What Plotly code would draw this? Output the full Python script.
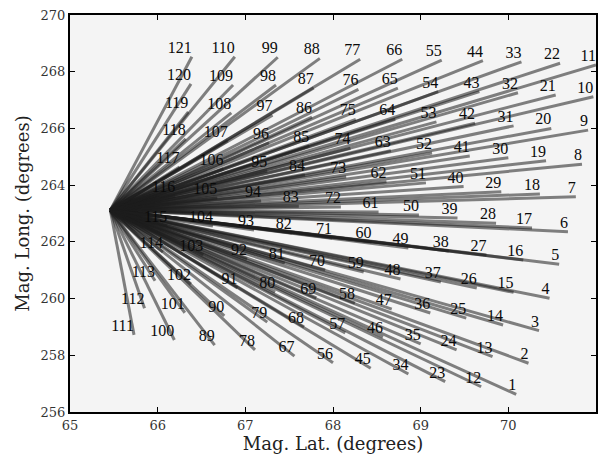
import plotly.graph_objects as go

# Origin point (Mag. Lat., Mag. Long.)
origin_lat = 65.46
origin_lon = 263.12

# End points of the 121 traced lines, label n = index + 1
end_lat = [
    70.09, 70.23, 70.35, 70.47, 70.58, 70.68, 70.77, 70.84, 70.91, 70.97, 71.00,
    69.69, 69.82, 69.94, 70.06, 70.17, 70.27, 70.36, 70.43, 70.49, 70.54, 70.59,
    69.28, 69.41, 69.52, 69.64, 69.75, 69.86, 69.92, 70.00, 70.06, 70.11, 70.15,
    68.86, 69.00, 69.11, 69.23, 69.32, 69.42, 69.49, 69.56, 69.62, 69.67, 69.71,
    68.43, 68.57, 68.67, 68.77, 68.86, 68.98, 69.06, 69.13, 69.18, 69.20, 69.24,
    68.00, 68.14, 68.25, 68.35, 68.44, 68.52, 68.61, 68.66, 68.71, 68.74, 68.79,
    67.56, 67.67, 67.81, 67.91, 67.99, 68.09, 68.15, 68.20, 68.26, 68.29, 68.31,
    67.11, 67.25, 67.34, 67.45, 67.53, 67.61, 67.68, 67.73, 67.76, 67.78, 67.85,
    66.65, 66.76, 66.91, 67.02, 67.10, 67.18, 67.25, 67.27, 67.31, 67.35, 67.37,
    66.19, 66.31, 66.38, 66.52, 66.63, 66.68, 66.75, 66.80, 66.84, 66.86, 66.88,
    65.73, 65.85, 65.97, 66.06, 66.11, 66.20, 66.25, 66.32, 66.35, 66.38, 66.39,
]
end_lon = [
    256.62, 257.72, 258.87, 260.01, 261.21, 262.36, 263.59, 264.74, 265.94, 267.12, 268.24,
    256.89, 257.95, 259.07, 260.22, 261.36, 262.49, 263.69, 264.86, 266.00, 267.18, 268.30,
    257.07, 258.19, 259.31, 260.37, 261.54, 262.66, 263.77, 264.97, 266.09, 267.26, 268.35,
    257.34, 258.40, 259.49, 260.58, 261.68, 262.84, 263.95, 265.03, 266.18, 267.30, 268.39,
    257.54, 258.64, 259.63, 260.69, 261.78, 262.95, 264.08, 265.13, 266.23, 267.30, 268.41,
    257.74, 258.79, 259.84, 260.94, 261.99, 263.05, 264.12, 265.21, 266.32, 267.42, 268.44,
    257.97, 259.00, 260.02, 261.01, 262.14, 263.23, 264.30, 265.30, 266.32, 267.38, 268.44,
    258.19, 259.17, 260.23, 261.25, 262.31, 263.26, 264.36, 265.38, 266.40, 267.43, 268.47,
    258.36, 259.39, 260.37, 261.40, 262.42, 263.44, 264.50, 265.49, 266.47, 267.53, 268.51,
    258.54, 259.50, 260.51, 261.54, 262.56, 263.55, 264.57, 265.57, 266.55, 267.53, 268.53,
    258.72, 259.66, 260.63, 261.64, 262.56, 263.62, 264.64, 265.63, 266.58, 267.57, 268.53,
]
point_labels = [str(i + 1) for i in range(len(end_lat))]

x_ticks = [65, 66, 67, 68, 69, 70, 71]
y_ticks = [256, 258, 260, 262, 264, 266, 268, 270]

fig = go.Figure()

for la, lo in zip(end_lat, end_lon):
    fig.add_trace(go.Scatter(
        x=[origin_lat, la], y=[origin_lon, lo], mode="lines",
        line=dict(color="rgba(30,30,30,0.55)", width=3),
        hoverinfo="skip", showlegend=False,
    ))

fig.add_trace(go.Scatter(
    x=end_lat, y=end_lon, mode="text", text=point_labels,
    textposition="top left",
    textfont=dict(family="Liberation Serif", size=16, color="#0a0a0a"),
    showlegend=False, cliponaxis=False,
))

axis_common = dict(
    showgrid=False, zeroline=False, showline=True, mirror="allticks",
    linecolor="black", linewidth=2, ticks="inside", ticklen=5,
    tickcolor="black", tickwidth=1,
    tickfont=dict(family="DejaVu Serif", size=13, color="#333"),
)

fig.update_xaxes(
    range=[65, 71], tickvals=x_ticks, ticktext=[str(v) for v in x_ticks],
    title=dict(text="Mag. Lat. (degrees)", standoff=5,
               font=dict(family="DejaVu Serif", size=18, color="#222")),
    **axis_common,
)
fig.update_yaxes(
    range=[256, 270], tickvals=y_ticks, ticktext=[str(v) for v in y_ticks],
    title=dict(text="Mag. Long. (degrees)", standoff=6,
               font=dict(family="DejaVu Serif", size=18, color="#222")),
    **axis_common,
)

fig.update_layout(
    width=604, height=458,
    margin=dict(l=70, r=6, t=15, b=46),
    plot_bgcolor="#f4f4f4", paper_bgcolor="white",
)

fig.write_html("out.html")
